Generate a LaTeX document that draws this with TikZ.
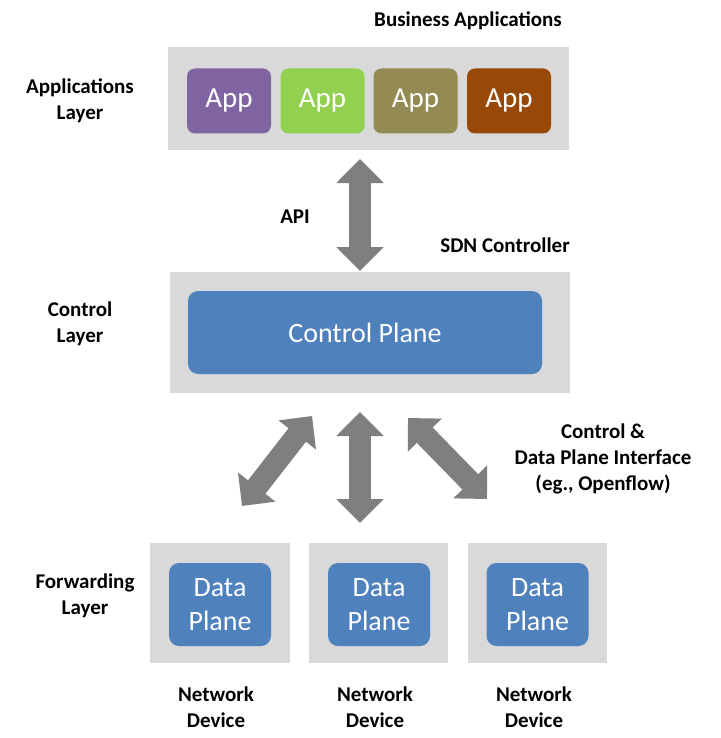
\documentclass[tikz,border=0pt]{standalone}
\usepackage{fontspec}
\setmainfont{Carlito}
\usetikzlibrary{arrows.meta}
\definecolor{layergray}{HTML}{D9D9D9}
\definecolor{arrowgray}{HTML}{7F7F7F}
\definecolor{planeblue}{HTML}{4F81BD}
\definecolor{apppurple}{HTML}{8064A2}
\definecolor{appgreen}{HTML}{92D050}
\definecolor{appolive}{HTML}{948A54}
\definecolor{appbrown}{HTML}{984807}
\begin{document}
\begin{tikzpicture}[x=1pt,y=-1pt,
  layerbox/.style={fill=layergray, draw=none, inner sep=0pt},
  appbox/.style={draw=none, rounded corners=8pt, minimum width=84pt, minimum height=65pt,
    text=white, font=\fontsize{29}{31}\selectfont, inner sep=0pt},
  bluebox/.style={fill=planeblue, draw=none, rounded corners=10pt, text=white, inner sep=0pt},
  lbl/.style={font=\bfseries\fontsize{21}{26}\selectfont, align=center, inner sep=0pt},
  bigarrow/.style={draw=arrowgray, line width=22pt,
    {Triangle[width=46pt,length=24pt]}-{Triangle[width=46pt,length=24pt]}}
]
\useasboundingbox[fill=white] (0,0) rectangle (720,738);

% Applications layer
\node[layerbox, minimum width=401pt, minimum height=103pt] (applayer) at (368.5,98.5) {};
\node[appbox, fill=apppurple] (app1) at (229,101) {App};
\node[appbox, fill=appgreen]  (app2) at (322.5,101) {App};
\node[appbox, fill=appolive]  (app3) at (415.5,101) {App};
\node[appbox, fill=appbrown]  (app4) at (509,101) {App};
\node[lbl] (bizapps) at (468,21) {Business Applications};
\node[lbl] (applbl) at (80,101) {Applications\\Layer};

% Control layer
\node[layerbox, minimum width=400pt, minimum height=121pt] (ctrllayer) at (370,332.5) {};
\node[bluebox, minimum width=354pt, minimum height=83pt,
  font=\fontsize{28}{30}\selectfont] (ctrlplane) at (365,332.5) {Control Plane};
\node[lbl] (ctrllbl) at (80,324) {Control\\Layer};
\node[lbl] (api) at (295,217) {API};
\node[lbl] (sdn) at (505,245) {SDN Controller};

% API arrow
\coordinate (apitop) at (360,159);
\coordinate (apibot) at (360,271);
\draw[bigarrow] (apitop) -- (apibot);

% Forwarding layer
\node[layerbox, minimum width=140pt, minimum height=120pt] (dev1) at (220,603) {};
\node[layerbox, minimum width=139pt, minimum height=120pt] (dev2) at (378.5,603) {};
\node[layerbox, minimum width=139pt, minimum height=120pt] (dev3) at (537.5,603) {};
\foreach \i/\x in {1/220,2/379,3/537.5}{
  \node[bluebox, minimum width=102pt, minimum height=83pt, align=center,
    font=\fontsize{28}{34}\selectfont] (dp\i) at (\x,604.5) {Data\\Plane};
}
\node[lbl] (fwdlbl) at (85,596) {Forwarding\\Layer};
\node[lbl] (nd1) at (216,707) {Network\\Device};
\node[lbl] (nd2) at (375,707) {Network\\Device};
\node[lbl] (nd3) at (534,707) {Network\\Device};
\node[lbl] (iface) at (603,459) {Control \&\\Data Plane Interface\\(eg., Openflow)};

% Southbound arrows
\coordinate (la) at (312,416);
\coordinate (lb) at (242,506);
\coordinate (ma) at (360,412);
\coordinate (mb) at (360,523);
\coordinate (ra) at (408,418);
\coordinate (rb) at (487,499);
\draw[bigarrow] (la) -- (lb);
\draw[bigarrow] (ma) -- (mb);
\draw[bigarrow] (ra) -- (rb);
\end{tikzpicture}
\end{document}
